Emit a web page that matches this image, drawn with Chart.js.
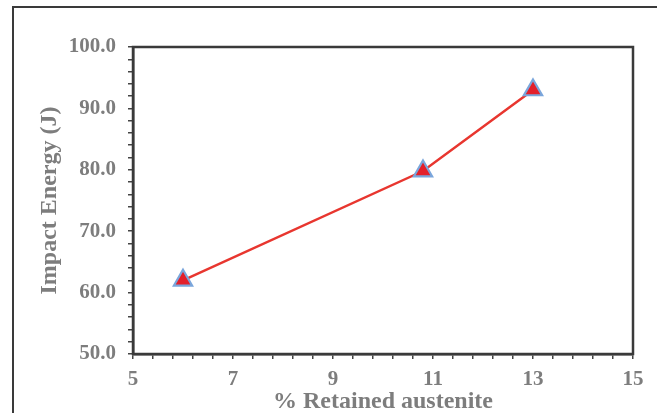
<!DOCTYPE html>
<html>
<head>
<meta charset="utf-8">
<script src="https://cdn.jsdelivr.net/npm/chart.js@4/dist/chart.umd.min.js"></script>
<style>
  html, body { margin: 0; padding: 0; background: #fff; }
  #wrap { position: relative; width: 657px; height: 413px; overflow: hidden; }
  #frame { position: absolute; left: 12px; top: 6px; width: 700px; height: 500px;
           border-left: 2px solid #3a3a3a; border-top: 2px solid #3a3a3a; }
  canvas { position: absolute; left: 0; top: 0; }
</style>
</head>
<body>
<div id="wrap">
  <div id="frame"></div>
  <canvas id="c" width="657" height="413"></canvas>
</div>
<script>
const retainedAustenite = [6, 10.8, 13];
const impactEnergy = [62.0, 79.8, 93.0];
const xTickLabels = [5, 7, 9, 11, 13, 15];
const yTickLabels = [50, 60, 70, 80, 90, 100];
const xMinorStep = 0.4;
const yMinorStep = 2;

const points = retainedAustenite.map((x, i) => ({ x: x, y: impactEnergy[i] }));

const framePlugin = {
  id: 'frame',
  afterDraw(chart) {
    const { ctx, chartArea: a } = chart;
    ctx.save();
    ctx.strokeStyle = '#3a3a3a';
    ctx.lineWidth = 2.5;
    ctx.strokeRect(a.left, a.top, a.right - a.left, a.bottom - a.top);
    ctx.restore();
  }
};

function buildTicks(min, max, step) {
  const n = Math.round((max - min) / step);
  const out = [];
  for (let i = 0; i <= n; i++) out.push({ value: +(min + i * step).toFixed(6) });
  return out;
}

const tickFont = { family: 'Liberation Serif', size: 21, weight: 'bold' };
const titleFont = { family: 'Liberation Serif', size: 24, weight: 'bold' };
const gray = '#7d7d7d';

new Chart(document.getElementById('c'), {
  type: 'scatter',
  data: {
    datasets: [{
      data: points,
      showLine: true,
      borderColor: '#e8362f',
      borderWidth: 2.5,
      pointStyle: 'triangle',
      pointRadius: 10.5,
      pointHoverRadius: 10.5,
      pointBackgroundColor: '#e3202b',
      pointBorderColor: '#7aa6dc',
      pointBorderWidth: 2.2
    }]
  },
  options: {
    responsive: false,
    animation: false,
    events: [],
    layout: { padding: { top: 47, right: 24, left: 0, bottom: 0 } },
    plugins: { legend: { display: false }, tooltip: { enabled: false } },
    scales: {
      x: {
        type: 'linear',
        min: xTickLabels[0],
        max: xTickLabels[xTickLabels.length - 1],
        afterBuildTicks(scale) { scale.ticks = buildTicks(scale.min, scale.max, xMinorStep); },
        afterFit(scale) { scale.height = 59; },
        ticks: {
          autoSkip: false, maxRotation: 0, padding: 8,
          color: gray, font: tickFont,
          callback(v) {
            const r = Math.round(v);
            return (Math.abs(v - r) < 1e-6 && xTickLabels.includes(r)) ? String(r) : '';
          }
        },
        grid: { drawOnChartArea: false, drawTicks: true, tickLength: 5, color: '#444', lineWidth: 1.5 },
        border: { display: true, color: '#3a3a3a', width: 2.5 },
        title: { display: true, text: '% Retained austenite', color: gray, font: titleFont, padding: { top: 0, bottom: -3 } }
      },
      y: {
        type: 'linear',
        min: yTickLabels[0],
        max: yTickLabels[yTickLabels.length - 1],
        afterBuildTicks(scale) { scale.ticks = buildTicks(scale.min, scale.max, yMinorStep); },
        afterFit(scale) { scale.width = 133; },
        ticks: {
          autoSkip: false, padding: 12,
          color: gray, font: tickFont,
          callback(v) {
            const r = Math.round(v);
            return (Math.abs(v - r) < 1e-6 && yTickLabels.includes(r)) ? r.toFixed(1) : '';
          }
        },
        grid: { drawOnChartArea: false, drawTicks: true, tickLength: 5, color: '#444', lineWidth: 1.5 },
        border: { display: true, color: '#3a3a3a', width: 2.5 },
        title: { display: true, text: 'Impact Energy (J)', color: gray, font: titleFont, padding: { top: 35, bottom: 0 } }
      }
    }
  },
  plugins: [framePlugin]
});
</script>
</body>
</html>
